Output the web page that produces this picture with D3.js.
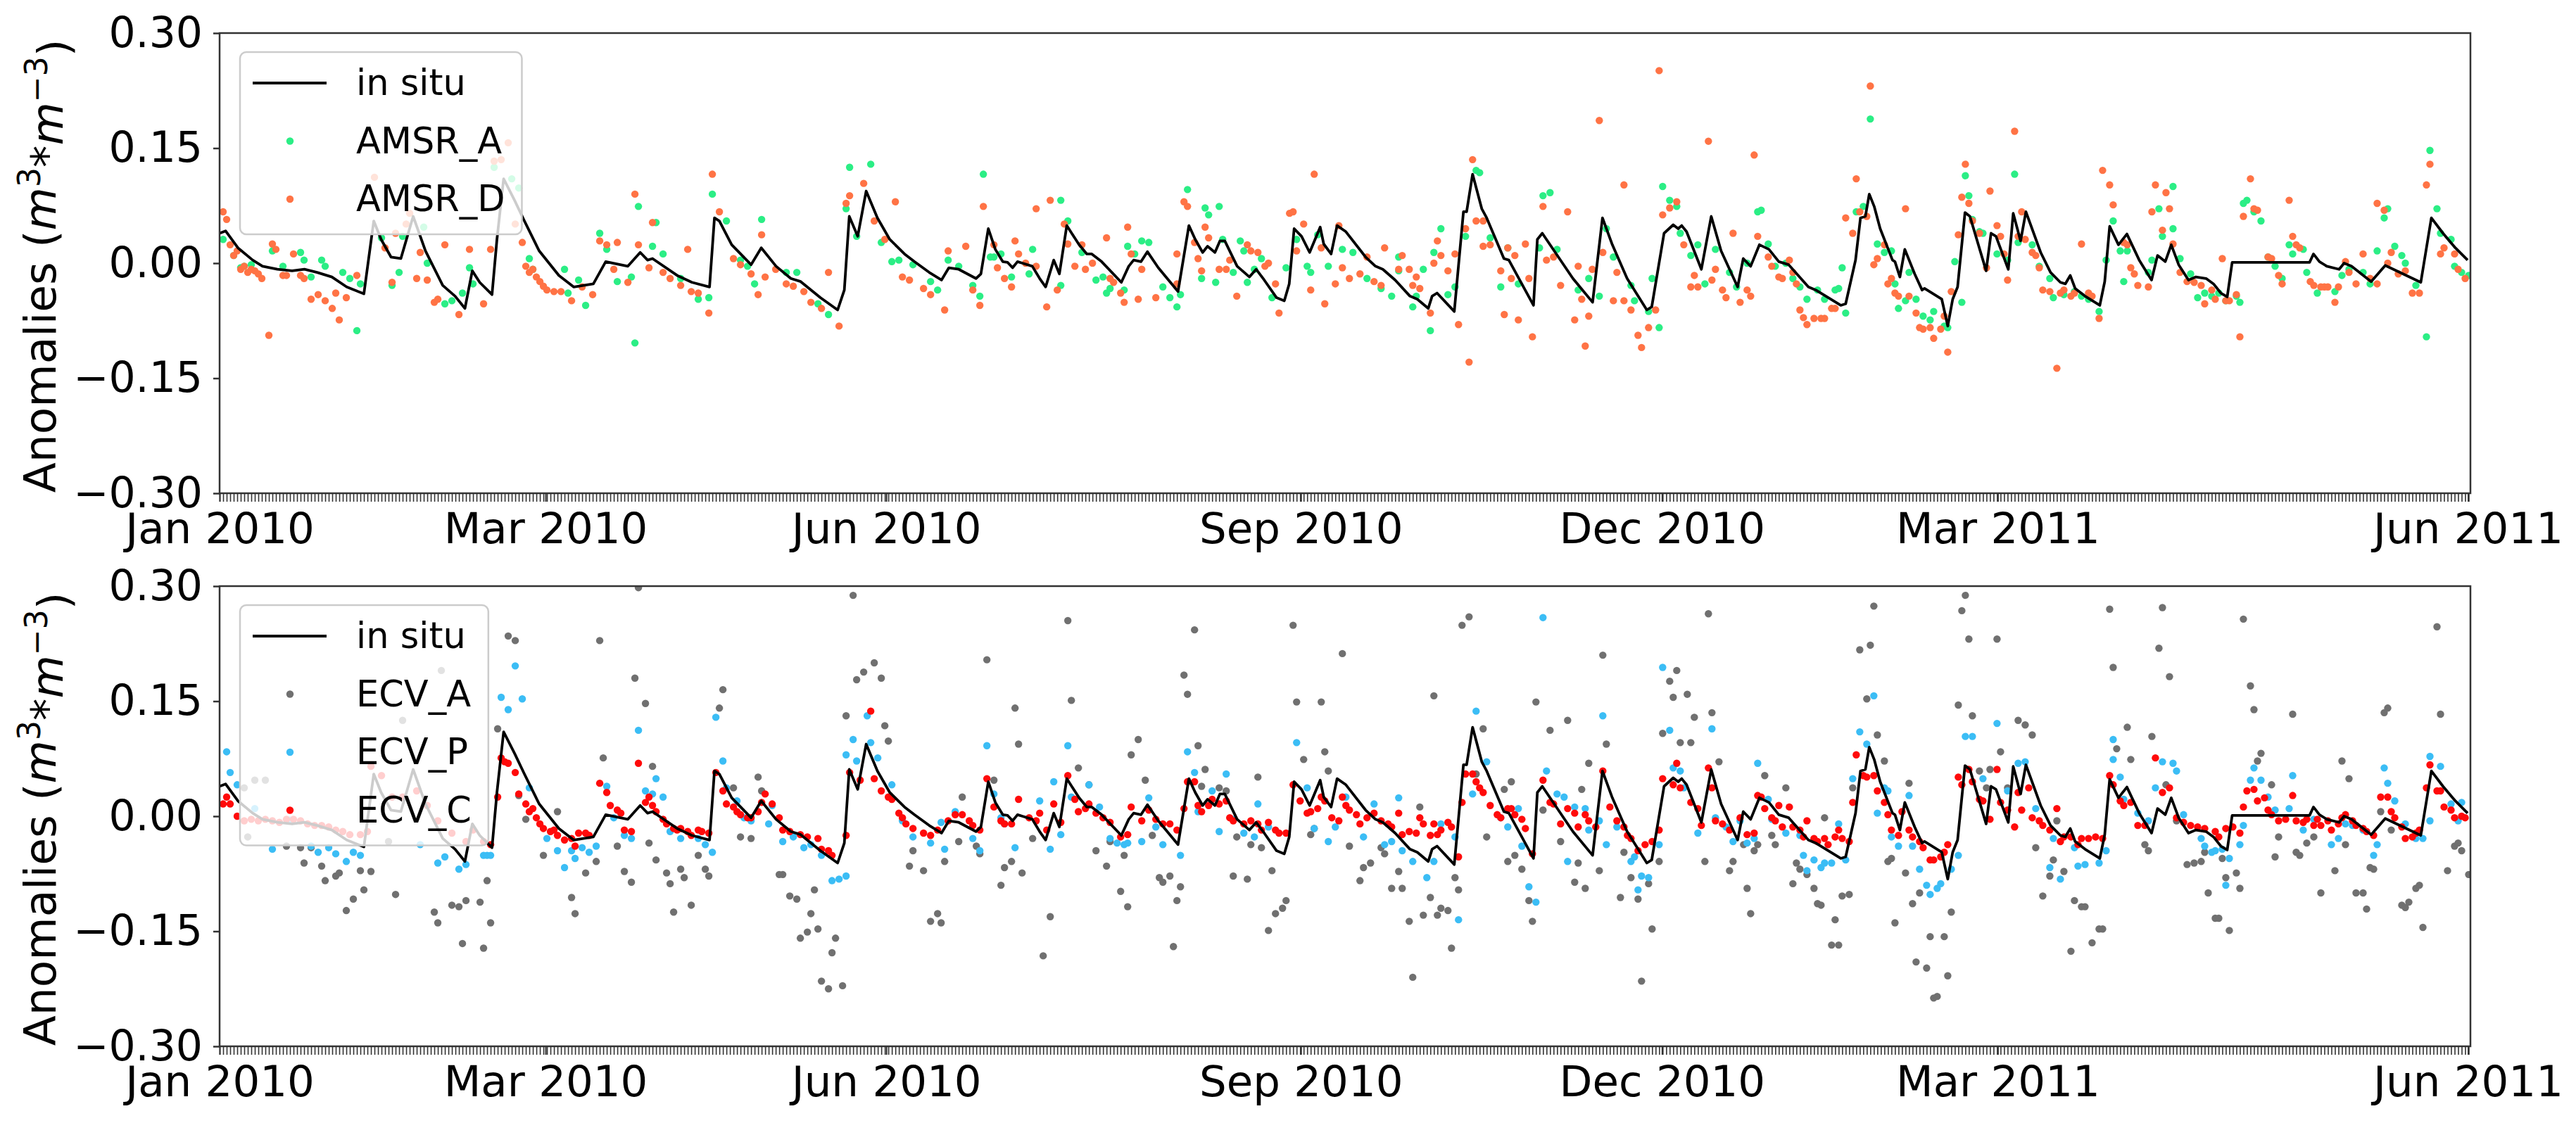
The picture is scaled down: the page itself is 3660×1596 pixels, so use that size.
<!DOCTYPE html>
<html>
  <head>
    <meta charset="utf-8">
    <script src="https://d3js.org/d3.v7.min.js"></script>
    <style>
      body { margin: 0; background: #fff; }
      text { font-family: "DejaVu Sans", sans-serif; }
    </style>
  </head>
  <body>
    <div id="chart"></div>

    <script>
      // x is the sample index along the record; tick labels sit at these indices
      const xTickLabels = ["Jan 2010", "Mar 2010", "Jun 2010", "Sep 2010", "Dec 2010", "Mar 2011", "Jun 2011"];
      const xTickIndex = [0, 92.6, 189.4, 307.2, 409.8, 505.2, 638.8];
      const nSamples = 639.5;
      const yTicks = [0.30, 0.15, 0.00, -0.15, -0.30];

      // in situ line, [index, anomaly] at the line's vertices
      const inSitu = [[0,.039],[1.7,.042],[5.2,.020],[9.4,.004],[12.2,-.004],[16.4,-.008],[20.6,-.010],[24.1,-.008],[27.7,-.012],[31.9,-.018],[36.1,-.031],[41,-.040],[43.8,.055],[45.9,.031],[48.7,.008],[51.5,.006],[55,.061],[58.5,.016],[63.4,-.029],[66.9,-.043],[69.7,-.059],[71.8,-.010],[73.9,-.025],[77.4,-.041],[78.8,.031],[80.7,.110],[83.8,.082],[86.6,.055],[90.8,.016],[96.4,-.016],[100.6,-.031],[106.2,-.027],[109.7,.002],[116,-.004],[119.5,.014],[121.6,.004],[123,.006],[130,-.016],[134.2,-.025],[139.2,-.031],[140.6,.059],[142,.055],[145.5,.024],[151,-.002],[153.9,.020],[158.1,-.004],[162.3,-.020],[165.1,-.024],[170.7,-.045],[175.6,-.061],[177.5,-.035],[178.9,.061],[181.3,.035],[183.7,.094],[186.9,.059],[190.4,.031],[194.6,.012],[197.4,.002],[201.6,-.012],[205.1,-.022],[207.2,-.006],[210,-.008],[214.9,-.020],[216.3,-.014],[218.4,.045],[220.4,.018],[222.5,.002],[223.9,.001],[225.3,-.006],[226.7,.002],[228.1,0],[230.9,-.004],[233,-.020],[234.7,-.031],[237,.004],[238.6,-.014],[240.7,.049],[244.2,.024],[246.4,.012],[247.8,.012],[250.6,.002],[256.2,-.025],[258.3,-.004],[259.7,.004],[261.8,.002],[263.6,.015],[266.7,-.006],[272.3,-.037],[275.4,.049],[277.2,.031],[279.3,.014],[280.7,.022],[282.8,.014],[284.2,.029],[285.6,.029],[289.1,-.004],[292.6,-.018],[294.5,-.008],[296.8,-.022],[300.3,-.045],[302.5,-.049],[303.9,-.027],[305.3,.045],[307.4,.035],[309.7,.014],[312.7,.047],[313.7,.025],[315.8,.012],[317.5,.049],[320,.041],[325.6,.008],[328.4,-.004],[330.5,-.008],[334,-.022],[338.2,-.043],[340.3,-.047],[343.4,-.059],[344.5,-.043],[345.9,-.039],[350.8,-.063],[353.4,.067],[354.3,.067],[356,.116],[358.6,.071],[360,.059],[364.9,.006],[366.3,.004],[373.3,-.055],[374.4,.031],[375.8,.039],[384.5,-.020],[390.1,-.051],[392.9,.059],[395.7,.024],[399.9,-.020],[405.5,-.061],[406.9,-.057],[410.4,.039],[413,.050],[414.4,.045],[415.4,.049],[416.8,.041],[421,-.008],[423.8,.061],[426.6,.016],[431.3,-.031],[432.9,.006],[435,-.004],[437.5,.024],[440.2,.018],[443,.002],[445.8,-.002],[451.4,-.031],[453.5,-.035],[460.6,-.055],[462,-.053],[464.8,.004],[466.2,.059],[467.6,.061],[468.7,.090],[470.1,.074],[471.8,.045],[475.3,.004],[476,.002],[477.4,-.018],[478.8,.018],[481.6,-.014],[483.7,-.035],[484.4,-.033],[489.3,-.047],[491,-.082],[492.4,-.047],[493.8,-.031],[495.9,.066],[497.3,.061],[501.9,-.010],[503.3,.039],[504.7,.035],[508.2,-.008],[509.6,.065],[511.7,.029],[513.2,.067],[517.4,.014],[520.2,-.012],[523,-.025],[524.4,-.027],[525.8,-.016],[527.2,-.033],[530,-.043],[534.2,-.055],[535.6,-.024],[537,.048],[539.5,.024],[541.9,.038],[545.4,.004],[548.9,-.022],[550.6,.010],[552.8,.002],[554.5,.024],[556.6,-.002],[559.4,-.022],[561.5,-.018],[564.4,-.020],[566.5,-.027],[568.6,-.039],[570.4,-.044],[571.8,.001],[593.8,.001],[594.9,.012],[596.6,.002],[598.7,-.004],[602.2,-.008],[603.6,0],[605.7,-.004],[611.3,-.024],[615.3,-.003],[625.4,-.025],[628.4,.059],[631.7,.039],[635.2,.020],[638.7,.004]];

      const amsrA = [[1,.031],[4,.010],[6,-.006],[7,-.004],[9,-.002],[15,.016],[18,-.004],[23,.014],[24,.004],[26,-.018],[29,.004],[30,-.004],[35,-.012],[37,-.020],[39,-.088],[40,-.027],[46,.033],[49,-.029],[51,-.012],[52,.035],[58,.047],[59,0],[64,-.053],[66,-.049],[69,-.039],[71,-.006],[72,-.027],[78,.125],[83,.110],[85,.098],[88,.006],[89,-.008],[98,-.008],[99,-.039],[102,-.022],[104,-.055],[108,.039],[110,.018],[113,-.024],[117,-.018],[118,-.104],[119,.074],[123,.022],[124,.053],[126,.012],[131,-.020],[136,-.047],[139,-.045],[140,.090],[144,.055],[148,.004],[150,-.004],[152,-.027],[154,.057],[161,-.012],[164,-.012],[170,-.053],[173,-.067],[178,.071],[179,.125],[181,.035],[185,.129],[188,.027],[191,.002],[193,.004],[197,-.002],[202,-.024],[204,-.035],[207,.004],[210,-.004],[214,-.029],[216,-.043],[217,.116],[219,.008],
        [220,.008],[222,.012],[225,-.018],[230,-.014],[231,.018],[239,-.029],[239,.082],[241,.055],[245,.014],[249,-.022],[251,-.018],[252,-.039],[253,-.033],[257,-.035],[258,.022],[260,.012],[262,.029],[264,.027],[268,-.031],[270,-.045],[272,-.057],[273,-.041],[275,.096],[279,-.020],[280,.072],[281,.063],[283,-.025],[284,.074],[285,.031],[288,-.012],[290,.029],[291,.016],[292,-.025],[294,-.008],[296,.006],[299,-.045],[303,-.006],[306,.031],[309,-.004],[310,-.012],[312,.037],[315,-.004],[319,.018],[322,.014],[326,-.020],[330,-.033],[333,-.043],[335,-.010],[335,.008],[339,-.057],[340,-.043],[342,-.008],[344,-.088],[345,.014],[347,.045],[349,-.041],[351,-.031],[354,.035],[357,.121],[358,.118],[361,.033],[364,-.031],[366,.020],[369,-.027],[375,.020],[376,.088],[378,.092],[380,.018],[386,-.035],[389,-.020],[392,-.043],[394,.045],[396,.008],[401,-.029],[402,-.049],[406,-.063],[407,-.020],[409,-.084],[410,.100],[412,.082],[414,.074],[415,.039],[418,.010],[420,.024],[422,-.027],[425,.018],[429,-.012],[431,-.031],[434,0],[437,.067],
        [438,.069],[440,.025],[442,-.004],[445,0],[447,-.020],[449,-.031],[451,-.047],[454,-.035],[456,-.047],[459,-.035],[460,-.033],[461,-.006],[462,-.065],[465,.067],[467,.074],[469,.188],[471,.025],[473,.014],[475,.016],[476,-.027],[477,-.059],[479,-.049],[480,-.012],[482,-.047],[484,-.069],[486,-.074],[487,-.063],[490,-.082],[491,-.084],[493,.002],[495,-.051],[496,.114],[497,.088],[498,.057],[500,.041],[501,.039],[505,.012],[508,.004],[510,.116],[511,.027],[515,.024],[517,-.004],[520,-.020],[521,-.045],[524,-.041],[527,-.037],[529,-.043],[531,-.047],[534,-.063],[536,.004],[538,.055],[540,.016],[541,-.024],[542,.016],[548,-.012],[549,.004],[551,.071],[552,.035],[555,.100],[555,.045],[557,.006],[560,-.014],[562,-.045],[564,-.039],[566,-.043],[568,-.039],[570,-.049],[573,-.043],[574,-.051],[575,.078],[576,.082],[578,.067],[580,.055],[582,.008],[584,-.004],[586,-.020],[588,.024],[589,.012],[592,.018],[593,-.012],[596,-.039],[601,-.037],[603,-.016],[605,-.008],[609,-.012],[611,-.027],[613,.016],[615,.059],[616,.071],[618,.022],[620,.010],[621,0],[624,-.029],[627,-.096],[628,.147],[630,.071],[631,.039],[634,.031],[635,-.004],[637,-.012],[639,-.016]];

      const amsrD = [[1,.067],[2,.057],[3,.024],[4,.010],[5,.016],[6,-.008],[7,-.004],[8,-.012],[9,-.008],[10,-.010],[11,-.014],[12,-.020],[14,-.094],[15,.025],[16,.018],[18,-.016],[19,-.016],[21,.012],[23,-.016],[24,-.020],[26,-.047],[28,-.041],[30,-.049],[32,-.059],[33,-.039],[34,-.074],[36,-.045],[39,-.016],[44,.112],[47,.020],[49,-.025],[50,.039],[53,.051],[54,.065],[56,-.020],[57,.014],[59,-.022],[61,-.051],[62,-.047],[64,.024],[68,-.067],[71,.018],[75,-.053],[77,.018],[78,.133],[80,.135],[82,.157],[84,.051],[86,.027],[87,-.004],[88,-.012],[89,-.008],[90,-.018],[91,-.024],[92,-.030],[93,-.035],[95,-.037],[97,-.037],[100,-.049],[103,-.031],[106,-.041],[108,.029],[110,.024],[112,-.008],[113,.027],[116,-.025],[118,.090],[119,.024],[122,-.006],[123,.053],[126,-.012],[128,-.020],[131,-.029],[133,.018],[134,-.037],[136,-.039],[139,-.065],[140,.116],[142,.067],[146,.006],[148,-.002],[151,-.014],[153,-.041],[154,.037],[155,-.018],[158,-.008],[161,-.027],[163,-.030],[166,-.037],[168,-.051],[171,-.059],[173,-.012],[176,-.082],[178,.078],[179,.088],[183,.104],[186,.055],[189,.031],[192,.080],[194,-.018],[196,-.022],[200,-.033],[202,-.041],[206,-.061],[207,.016],[212,.022],[214,-.035],[216,-.055],[217,.074],
        [220,.024],[221,-.006],[223,-.020],[225,-.031],[226,.029],[227,.012],[229,0],[232,-.004],[232,.071],[235,-.057],[236,.082],[238,-.035],[240,.051],[241,.025],[243,-.004],[245,.024],[246,-.008],[248,0],[252,.033],[253,-.020],[254,-.025],[256,-.039],[257,-.051],[258,.047],[259,.012],[261,-.047],[262,-.008],[266,-.045],[272,.012],[272,-.027],[274,.080],[275,.074],[277,.027],[278,.006],[279,-.010],[280,.047],[281,.033],[284,-.008],[286,-.008],[287,.004],[289,-.043],[292,.024],[293,.016],[295,.014],[297,-.004],[298,0],[300,-.027],[301,-.065],[304,.065],[305,.067],[306,.016],[308,.051],[310,-.035],[311,.116],[313,.020],[314,-.053],[317,-.027],[318,.049],[319,-.006],[321,-.020],[324,-.014],[326,.008],[328,-.024],[330,-.029],[331,.020],[335,-.008],[336,.010],[338,-.008],[339,-.029],[340,-.018],[341,-.033],[344,-.065],[345,0],[346,.029],[347,.010],[349,-.010],[351,.012],[352,-.080],[354,.045],[355,-.129],[356,.135],[357,.055],[359,.022],[359,.055],[361,.024],[364,-.010],[365,-.067],[366,.020],[367,-.020],[368,.010],[369,-.074],[371,.025],[372,-.020],[373,-.096],[376,.074],[377,.004],[379,.008],[381,-.029],[383,.067],[385,-.074],[386,-.004],[387,-.047],[388,-.108],[389,-.069],[390,-.008],[392,.186],[393,.014],[396,-.049],[397,-.012],[399,-.049],[399,.102],[401,-.061],[403,-.094],[404,-.110],[406,-.084],[408,-.061],[409,.251],[410,.063],[412,.072],[414,.080],[416,.024],[418,-.031],[419,-.016],[420,-.031],[423,.159],[424,-.022],[425,-.008],[427,-.035],[428,-.045],[430,.039],[432,-.051],[434,-.035],[435,-.043],[436,.141],[437,.035],
        [440,.008],[441,-.004],[443,-.018],[444,-.020],[446,.004],[447,-.012],[448,-.027],[449,-.061],[450,-.071],[451,-.080],[453,-.072],[455,-.072],[456,-.072],[458,-.059],[459,-.059],[462,.059],[464,.039],[465,.110],[466,.067],[468,.061],[469,.231],[470,-.002],[471,.006],[473,.024],[474,-.027],[475,-.020],[476,-.039],[477,-.043],[479,.071],[480,-.043],[482,-.065],[483,-.084],[484,-.086],[486,-.084],[487,-.098],[489,-.086],[490,-.069],[491,-.116],[492,-.037],[494,.037],[495,.086],[496,.129],[497,.078],[498,.055],[500,.039],[502,-.006],[503,.094],[505,.049],[506,.035],[507,.012],[508,-.022],[510,.172],[511,.035],[512,.067],[513,.031],[515,.014],[516,.010],[517,-.006],[518,-.035],[520,-.037],[522,-.137],[523,-.039],[524,-.035],[526,-.043],[527,-.039],[529,.025],[531,-.039],[532,-.043],[534,-.072],[535,.121],[537,.102],[538,.076],[541,.027],[542,.024],[543,-.006],[544,-.014],[545,-.029],[548,-.031],[549,.067],[550,.102],[552,.043],[553,.092],[554,.071],[555,.025],[557,-.012],[559,-.024],[561,-.025],[563,-.029],[564,-.053],[566,-.035],[567,-.047],[569,.006],[570,-.049],[571,-.049],[573,-.041],[574,-.096],[575,.061],[577,.110],[578,.071],[579,.069],[582,.008],[583,.006],[585,-.016],[586,-.027],[588,.082],[589,.035],[590,.024],[591,.020],[594,-.024],[595,-.029],[597,-.031],[598,-.031],[599,-.031],[601,-.051],[602,-.031],[604,.002],[605,-.012],[607,-.027],[609,.012],[611,-.020],[613,-.027],[613,.078],[615,.069],[616,0],[617,.014],[619,-.014],[621,-.010],[623,-.039],[625,-.039],[627,.102],[628,.129],[631,.012],[632,.020],[635,.012],[636,-.008],[638,-.020]];

      const ecvA = [[7,.037],[8,-.027],[10,.047],[13,.047],[19,-.039],[23,-.041],[24,-.061],[26,-.041],[29,-.065],[30,-.084],[33,-.078],[34,-.074],[36,-.123],[38,-.108],[40,-.071],[41,-.096],[43,-.072],[48,-.033],[50,-.102],[52,.125],[61,-.125],[62,-.139],[63,.190],[66,-.116],[68,-.118],[69,-.166],[70,-.110],[74,-.112],[75,-.172],[76,-.084],[77,-.139],[79,.114],[82,.235],[84,.229],[85,.027],[87,-.004],[92,-.051],[96,.006],[100,-.106],[101,-.127],[104,-.074],[107,-.059],[108,.229],[109,.076],[113,-.039],[115,-.072],[117,-.086],[118,.180],[119,.298],[121,.147],[122,-.035],[123,.065],[124,-.057],[127,-.074],[128,-.088],[129,-.125],[131,-.069],[132,-.080],[134,-.116],[136,-.051],[138,-.069],[139,-.078],[142,.141],[143,.165],[146,.037],[148,-.027],[151,-.029],[153,.051],[154,.033],[159,-.076],[160,-.076],[162,-.104],[164,-.108],[165,-.159],[167,-.151],[168,-.127],[169,-.096],[170,-.147],[171,-.215],[173,-.225],[174,-.178],[175,-.159],[177,-.221],[178,.131],[180,.288],[181,.178],[183,.188],[186,.200],[188,.180],[189,.118],[190,.098],[196,-.065],[197,-.045],[200,-.071],[202,-.137],[204,-.127],[205,-.139],[206,-.059],[210,-.033],[211,.025],[215,-.039],[216,-.049],[218,.204],
        [220,.047],[222,-.090],[223,-.067],[225,-.059],[226,.141],[227,.094],[228,-.074],[231,-.029],[234,-.182],[236,-.131],[241,.255],[242,.151],[244,.063],[247,.041],[249,-.045],[252,-.065],[253,-.033],[256,-.098],[257,-.051],[258,-.118],[259,.080],[261,.100],[263,.047],[265,-.025],[267,-.080],[268,-.086],[270,-.078],[271,-.170],[272,-.110],[273,-.092],[274,.184],[275,.159],[277,.243],[278,.092],[279,.039],[280,.061],[284,.037],[286,.033],[288,-.078],[289,-.027],[292,-.082],[293,-.037],[295,.051],[296,-.041],[298,-.149],[299,-.071],[300,-.127],[302,-.120],[303,-.110],[305,.249],[306,.149],[308,.074],[310,-.024],[311,-.016],[313,.149],[314,.084],[315,.059],[319,.212],[321,-.039],[324,-.084],[325,-.067],[327,-.061],[330,-.041],[331,-.049],[333,-.094],[335,-.072],[336,-.094],[338,-.137],[339,-.210],[341,.012],[342,-.129],[344,-.106],[345,.157],[346,-.129],[347,-.120],[349,-.123],[350,-.172],[351,-.080],[352,-.096],[353,.249],[355,.260],[357,.055],[359,.114],[360,-.027],[365,.035],[366,-.059],[367,.045],[368,-.051],[370,-.069],[372,-.110],[373,-.137],[374,.149],[376,.008],[378,.112],[381,-.033],[383,.125],[385,-.086],[386,-.061],[387,.035],[388,-.094],[389,.069],[392,-.071],[393,.210],[394,.094],[398,-.106],[399,-.047],[401,-.080],[403,-.108],[404,-.215],[406,-.088],[407,-.147],[409,-.059],[410,.108],[412,.176],[413,.155],[414,.190],[415,.096],[417,.159],[418,.096],[419,.129],[422,-.059],[423,.264],[424,.135],[426,.071],[429,-.071],[430,-.059],[433,-.037],[434,-.094],[435,-.127],[436,-.045],
        [437,-.037],[439,.053],[441,-.025],[442,-.037],[445,.037],[447,-.088],[448,-.061],[449,-.069],[451,-.076],[453,-.094],[454,-.114],[455,-.116],[456,-.002],[458,-.168],[459,-.135],[460,-.168],[461,-.104],[463,-.102],[464,.037],[466,.217],[468,.153],[469,.223],[470,.274],[471,.106],[473,.072],[474,-.059],[475,-.055],[476,-.139],[479,-.074],[480,.043],[481,-.114],[482,-.190],[483,-.100],[485,-.198],[486,-.157],[487,-.237],[488,-.235],[490,-.157],[491,-.208],[492,-.125],[494,.145],[495,.268],[496,.288],[497,.231],[498,.131],[500,.059],[502,.037],[503,.061],[505,.231],[506,.084],[508,.037],[511,.125],[513,.119],[515,.106],[516,-.041],[518,-.104],[520,-.078],[521,-.057],[522,-.006],[524,-.072],[526,-.176],[527,-.110],[529,-.118],[530,-.118],[532,-.165],[534,-.147],[535,-.147],[537,.270],[538,.194],[539,.088],[542,.116],[543,.074],[547,-.037],[548,-.045],[549,.104],[551,.219],[552,.272],[553,.041],[554,.182],[556,-.006],[559,-.063],[561,-.061],[563,-.059],[564,-.047],[565,-.100],[567,-.133],[568,-.133],[569,-.055],[570,-.080],[571,-.149],[573,-.074],[574,-.094],[575,.257],[577,.170],[578,.139],[579,.072],[580,.082],[583,.041],[584,-.053],[585,-.027],[589,.133],[590,-.047],[591,-.051],[593,-.035],[595,-.027],[597,-.100],[601,-.071],[603,.072],[604,-.037],[605,.049],[607,-.100],[609,-.100],[610,-.121],[611,-.067],[612,-.069],[614,.006],[615,.135],[616,.141],[617,-.018],[620,-.116],[621,-.119],[622,-.112],[624,-.094],[625,-.090],[626,-.145],[630,.247],[631,.133],[633,-.071],[635,-.039],[636,-.035],[637,-.045],[639,-.076]];

      const ecvP = [[2,.084],[3,.057],[5,.041],[10,.010],[15,-.043],[20,-.005],[26,-.039],[28,-.047],[31,-.041],[33,-.049],[36,-.059],[38,-.047],[40,-.051],[57,-.037],[62,-.061],[64,-.053],[68,-.069],[70,-.063],[75,-.051],[76,-.051],[77,-.051],[80,.155],[82,.139],[84,.196],[86,.153],[88,.037],[93,-.029],[96,-.045],[98,-.067],[100,-.045],[101,-.055],[103,-.041],[105,-.047],[107,-.039],[110,.039],[112,-.002],[115,-.025],[117,-.029],[119,.112],[121,.033],[123,.029],[124,.049],[126,.025],[128,-.020],[131,-.029],[136,-.029],[138,-.037],[140,-.047],[141,.129],[143,.072],[144,.037],[147,.020],[149,-.002],[151,-.006],[156,-.010],[157,.014],[160,-.033],[163,-.027],[166,-.041],[168,-.037],[171,-.051],[174,-.084],[176,-.082],[178,-.078],[178,.080],[180,.100],[181,.072],[184,.131],[185,.096],[187,.076],[191,.041],[194,-.006],[197,-.027],[202,-.035],[205,-.008],[206,-.043],[209,.006],[214,-.029],[216,-.045],[218,.092],
        [220,.029],[222,-.002],[223,-.010],[226,-.041],[233,.020],[236,-.043],[237,.045],[239,-.024],[241,.092],[242,.025],[247,.041],[250,.012],[253,-.029],[255,-.035],[257,-.037],[258,-.035],[262,-.033],[264,.024],[266,-.014],[268,-.037],[273,-.051],[275,.084],[277,.057],[278,.006],[282,.033],[284,-.020],[286,.055],[288,-.004],[291,-.022],[294,-.027],[295,.016],[298,-.014],[306,.096],[309,.037],[311,-.016],[315,-.033],[317,-.014],[320,.025],[325,-.027],[328,.016],[331,-.037],[333,-.033],[335,.024],[336,-.045],[339,-.059],[343,-.080],[345,-.059],[347,-.010],[351,-.027],[352,-.135],[356,.029],[357,.137],[360,.071],[364,-.002],[366,-.014],[369,.010],[370,-.039],[372,-.092],[374,-.112],[376,.259],[377,.059],[380,.029],[382,.025],[383,-.059],[385,.012],[388,.010],[389,-.018],[392,-.006],[393,.131],[394,-.037],[397,-.014],[401,-.059],[402,-.053],[403,-.096],[404,-.078],[406,-.080],[409,-.037],[410,.194],[412,.112],[413,.063],[415,.059],[416,.037],[420,-.022],[424,.114],[425,-.002],[428,-.014],[430,-.033],[432,-.006],[434,-.035],[436,-.029],[437,.069],
        [440,.022],[441,-.004],[445,-.022],[449,-.025],[450,-.051],[451,-.071],[453,-.057],[455,-.067],[456,-.061],[458,-.061],[460,-.010],[462,-.057],[464,.049],[466,.110],[468,.094],[470,.157],[471,.004],[473,.037],[474,.033],[475,-.027],[477,-.039],[480,.027],[481,-.039],[483,-.069],[485,-.090],[486,-.102],[488,-.094],[489,-.088],[492,-.069],[494,-.051],[496,.104],[498,.104],[501,.049],[505,.121],[508,.033],[511,.069],[513,.071],[516,.010],[520,-.067],[521,-.029],[523,-.082],[527,-.041],[528,-.065],[530,-.063],[534,-.061],[536,-.045],[538,.074],[538,.100],[540,.051],[541,.022],[545,.004],[548,-.006],[550,.037],[552,.071],[555,.069],[556,.059],[558,.002],[563,-.029],[564,-.039],[566,-.047],[567,-.045],[569,-.043],[570,-.090],[571,-.055],[574,-.037],[575,-.012],[577,.047],[578,.063],[580,.047],[582,.025],[584,.008],[588,.010],[589,.053],[592,-.018],[595,-.004],[600,-.037],[602,-.029],[604,-.010],[606,-.012],[609,-.018],[612,-.051],[613,-.037],[615,.063],[616,.043],[618,.020],[621,-.010],[624,-.029],[626,-.029],[628,-.006],[628,.078],[631,.065],[634,.016],[636,-.006],[637,.018]];

      const ecvC = [[1,.016],[2,.025],[3,.016],[5,0],[7,-.006],[9,-.004],[11,-.006],[13,-.004],[15,-.006],[17,-.008],[19,-.004],[21,-.004],[23,-.006],[25,-.010],[27,-.012],[29,-.012],[31,-.014],[33,-.018],[35,-.020],[37,-.024],[40,-.024],[42,-.020],[43,.065],[46,.053],[49,.025],[52,.025],[56,.033],[59,.014],[62,-.006],[66,-.022],[70,-.033],[72,-.018],[75,-.033],[77,-.037],[79,.025],[80,.076],[81,.071],[82,.069],[84,.057],[85,.029],[87,.016],[88,.006],[89,.010],[90,-.002],[91,-.010],[92,-.016],[94,-.020],[95,-.018],[96,-.025],[98,-.031],[100,-.029],[101,-.039],[102,-.022],[104,-.022],[105,-.025],[108,.043],[110,.031],[111,.014],[113,.008],[114,.004],[115,-.018],[117,-.020],[119,.069],[121,.018],[122,.025],[123,.014],[124,.006],[126,-.004],[127,-.010],[129,-.016],[130,-.018],[131,-.016],[133,-.020],[134,-.025],[136,-.018],[137,-.020],[139,-.022],[141,.057],[143,.033],[144,.016],[146,.012],[147,.006],[148,.002],[150,-.002],[151,-.002],[153,.006],[154,.018],[155,.029],[157,.016],[159,-.002],[160,-.018],[162,-.020],[165,-.024],[167,-.027],[170,-.029],[171,-.043],[173,-.045],[174,-.051],[178,-.025],[179,.057],[182,.047],[185,.137],[186,.049],[188,.033],[190,.025],[191,.022],[193,.004],[194,-.002],[195,-.010],[197,-.016],[200,-.022],[202,-.025],[204,-.018],[207,-.006],[209,.002],[211,.002],[213,-.006],[214,-.012],[216,-.018],[218,.049],
        [220,.012],[222,-.006],[223,-.010],[225,-.010],[227,.022],[230,-.002],[232,-.006],[233,.004],[235,-.018],[237,.016],[239,-.008],[241,.053],[243,.022],[244,.006],[246,.010],[247,.016],[249,.004],[251,-.002],[253,-.008],[256,-.027],[258,-.024],[259,.012],[262,-.006],[264,.008],[266,-.004],[268,-.010],[270,-.010],[272,-.018],[274,.010],[275,.045],[277,.045],[278,.014],[279,.006],[281,.014],[282,.022],[284,.016],[286,.020],[287,-.002],[288,-.006],[291,-.010],[293,-.006],[295,-.010],[296,-.018],[298,-.008],[300,-.018],[301,-.022],[303,-.022],[305,.041],[307,.020],[309,.004],[310,.006],[312,.010],[313,.025],[314,.020],[316,-.002],[318,-.006],[319,.025],[320,.014],[321,.008],[323,.002],[324,-.010],[326,-.002],[328,.004],[330,-.006],[332,-.010],[333,-.014],[335,.004],[336,-.024],[338,-.020],[340,-.022],[341,-.002],[342,-.010],[344,-.025],[345,-.010],[346,-.024],[347,-.018],[349,-.008],[350,-.014],[352,-.053],[353,.018],[354,.055],[356,.055],[357,.045],[358,.037],[359,.031],[361,.014],[363,.002],[364,-.002],[366,.010],[367,.010],[368,.002],[370,-.004],[371,-.016],[373,-.049],[376,.047],[378,.018],[379,.016],[381,-.010],[383,.010],[385,.004],[386,-.014],[388,.002],[389,-.006],[391,-.014],[393,.059],[395,.012],[397,-.006],[399,-.014],[400,-.025],[401,-.029],[403,-.045],[405,-.037],[407,-.033],[409,-.018],[410,.049],[413,.041],[414,.069],[415,.037],[418,.018],[420,.010],[421,-.012],[423,.063],[424,.037],[425,-.006],[427,-.010],[429,-.018],[432,-.002],[434,-.024],[436,-.022],[437,.027],
        [438,.025],[439,.010],[441,-.002],[442,-.006],[443,.014],[444,-.014],[446,.012],[447,-.014],[449,-.018],[450,-.027],[451,-.006],[453,-.029],[454,-.033],[456,-.029],[457,-.037],[459,-.027],[460,-.018],[461,-.029],[463,-.033],[464,.018],[465,.080],[467,.053],[468,.051],[470,.053],[471,.033],[473,.018],[474,.002],[475,-.018],[477,-.025],[478,.006],[480,-.018],[481,-.027],[483,-.033],[484,-.041],[486,-.057],[487,-.057],[489,-.053],[490,-.047],[491,-.037],[494,.051],[495,.041],[497,.061],[498,.045],[500,.022],[501,.020],[503,-.004],[505,.061],[506,.018],[508,.008],[510,-.014],[511,.031],[512,.008],[514,.037],[515,-.002],[517,-.006],[518,-.012],[520,-.018],[522,.010],[523,-.033],[524,-.027],[526,-.027],[528,-.037],[529,-.029],[531,-.029],[533,-.027],[535,-.029],[537,.053],[538,.041],[540,.020],[541,.014],[543,.018],[545,-.012],[547,-.012],[550,.076],[552,.031],[554,.037],[556,-.002],[558,-.008],[560,-.012],[562,-.014],[564,-.016],[567,-.020],[568,-.027],[570,-.016],[572,-.014],[574,-.022],[575,.012],[576,.033],[578,.035],[579,.020],[581,.024],[582,.008],[583,.002],[585,-.006],[587,-.004],[589,.027],[590,-.006],[592,-.008],[593,-.004],[595,-.012],[596,-.004],[597,-.012],[599,-.006],[600,-.018],[602,-.010],[603,-.002],[604,.002],[606,-.006],[607,-.012],[609,-.016],[610,-.020],[612,-.025],[614,.025],[616,.025],[617,.006],[618,-.002],[620,-.014],[621,-.029],[623,-.027],[624,-.022],[625,-.018],[627,.037],[628,.067],[630,.033],[631,.033],[632,.012],[634,.008],[635,-.002],[637,0],[638,-.002]];

      const panels = [
        { series: [{ name: "AMSR_A", data: amsrA, color: "#2bee85" },
                   { name: "AMSR_D", data: amsrD, color: "#ff7345" }] },
        { series: [{ name: "ECV_A", data: ecvA, color: "#707070" },
                   { name: "ECV_P", data: ecvP, color: "#3bbdf5" },
                   { name: "ECV_C", data: ecvC, color: "#ff0a0a" }] }
      ];

      const width = 3660;
      const height = 1596;
      const margin = { left: 312, right: 150 };
      const panelTop = [47, 833];
      const panelHeight = 654;
      const tickFont = 60;
      const labelFont = 63;
      const legendFont = 51;

      const formatTick = d => (d < 0 ? "\u2212" : "") + Math.abs(d).toFixed(2);

      const svg = d3.select("#chart")
        .append("svg")
        .attr("width", width)
        .attr("height", height);

      const x = d3.scaleLinear()
        .domain([0, nSamples])
        .range([margin.left, width - margin.right]);

      panels.forEach((panel, p) => {
        const top = panelTop[p];
        const y = d3.scaleLinear()
          .domain([-0.3, 0.3])
          .range([top + panelHeight, top]);

        const g = svg.append("g");
        const clipId = "clip" + p;
        g.append("clipPath").attr("id", clipId)
          .append("rect")
          .attr("x", x.range()[0]).attr("y", top)
          .attr("width", x.range()[1] - x.range()[0]).attr("height", panelHeight);

        const plot = g.append("g").attr("clip-path", `url(#${clipId})`);

        panel.series.forEach(s => {
          plot.selectAll(null)
            .data(s.data)
            .enter()
            .append("circle")
            .attr("cx", d => x(d[0]))
            .attr("cy", d => y(d[1]))
            .attr("r", 5.2)
            .attr("fill", s.color);
        });

        plot.append("path")
          .datum(inSitu)
          .attr("fill", "none")
          .attr("stroke", "#000")
          .attr("stroke-width", 3.8)
          .attr("stroke-linejoin", "round")
          .attr("d", d3.line().x(d => x(d[0])).y(d => y(d[1])));

        // daily minor ticks
        const minor = g.append("g")
          .attr("transform", `translate(0, ${top + panelHeight})`)
          .call(d3.axisBottom(x).tickValues(d3.range(0, 640)).tickFormat("").tickSize(12));
        minor.select(".domain").remove();
        minor.selectAll("line").attr("stroke", "#333").attr("stroke-width", 1.6);

        const xAxis = g.append("g")
          .attr("transform", `translate(0, ${top + panelHeight})`)
          .call(d3.axisBottom(x).tickValues(xTickIndex)
            .tickFormat((d, i) => xTickLabels[i]).tickSize(12).tickPadding(16));
        xAxis.select(".domain").remove();
        xAxis.selectAll("line").attr("stroke", "#333").attr("stroke-width", 2);
        xAxis.selectAll("text")
          .attr("fill", "#000")
          .style("font-size", (tickFont + 1) + "px")
          .style("font-family", "DejaVu Sans");

        const yAxis = g.append("g")
          .attr("transform", `translate(${margin.left}, 0)`)
          .call(d3.axisLeft(y).tickValues(yTicks).tickFormat(formatTick).tickSize(9).tickPadding(15));
        yAxis.select(".domain").remove();
        yAxis.selectAll("line").attr("stroke", "#333").attr("stroke-width", 2.5);
        yAxis.selectAll("text")
          .attr("fill", "#000")
          .style("font-size", tickFont + "px")
          .style("font-family", "DejaVu Sans");

        g.append("rect")
          .attr("x", x.range()[0]).attr("y", top)
          .attr("width", x.range()[1] - x.range()[0]).attr("height", panelHeight)
          .attr("fill", "none")
          .attr("stroke", "#333")
          .attr("stroke-width", 2.5);

        // y label with math-style units
        const label = g.append("text")
          .attr("transform", `translate(79, ${top + panelHeight / 2 + 4}) rotate(-90)`)
          .attr("text-anchor", "middle")
          .style("font-size", labelFont + "px")
          .attr("fill", "#000");
        label.append("tspan").text("Anomalies (");
        label.append("tspan").style("font-style", "italic").text("m");
        label.append("tspan").attr("dy", "-0.5em").style("font-size", "44px").text("3");
        label.append("tspan").attr("dy", "0.5em").text("*");
        label.append("tspan").style("font-style", "italic").text("m");
        label.append("tspan").attr("dy", "-0.5em").style("font-size", "44px").text("\u22123");
        label.append("tspan").attr("dy", "0.5em").text(")");

        // legend
        const entries = [{ name: "in situ", line: true }].concat(panel.series);
        const lx = 341, ly = top + 27, step = 82.5;
        const legend = g.append("g");
        const box = legend.append("rect")
          .attr("x", lx).attr("y", ly)
          .attr("rx", 9).attr("ry", 9)
          .attr("fill", "#fff").attr("fill-opacity", 0.8)
          .attr("stroke", "#cccccc").attr("stroke-width", 2.5);
        let maxW = 0;
        entries.forEach((e, i) => {
          const ey = ly + 44 + i * step;
          if (e.line) {
            legend.append("line")
              .attr("x1", lx + 18).attr("x2", lx + 123)
              .attr("y1", ey).attr("y2", ey)
              .attr("stroke", "#000").attr("stroke-width", 3.8);
          } else {
            legend.append("circle")
              .attr("cx", lx + 71).attr("cy", ey).attr("r", 5.2)
              .attr("fill", e.color);
          }
          const t = legend.append("text")
            .attr("x", lx + 165).attr("y", ey + 17)
            .style("font-size", legendFont + "px")
            .attr("fill", "#000")
            .text(e.name);
          maxW = Math.max(maxW, t.node().getComputedTextLength());
        });
        box.attr("width", 165 + maxW + 24)
          .attr("height", 44 + (entries.length - 1) * step + 50);
      });
    </script>
  </body>
</html>
